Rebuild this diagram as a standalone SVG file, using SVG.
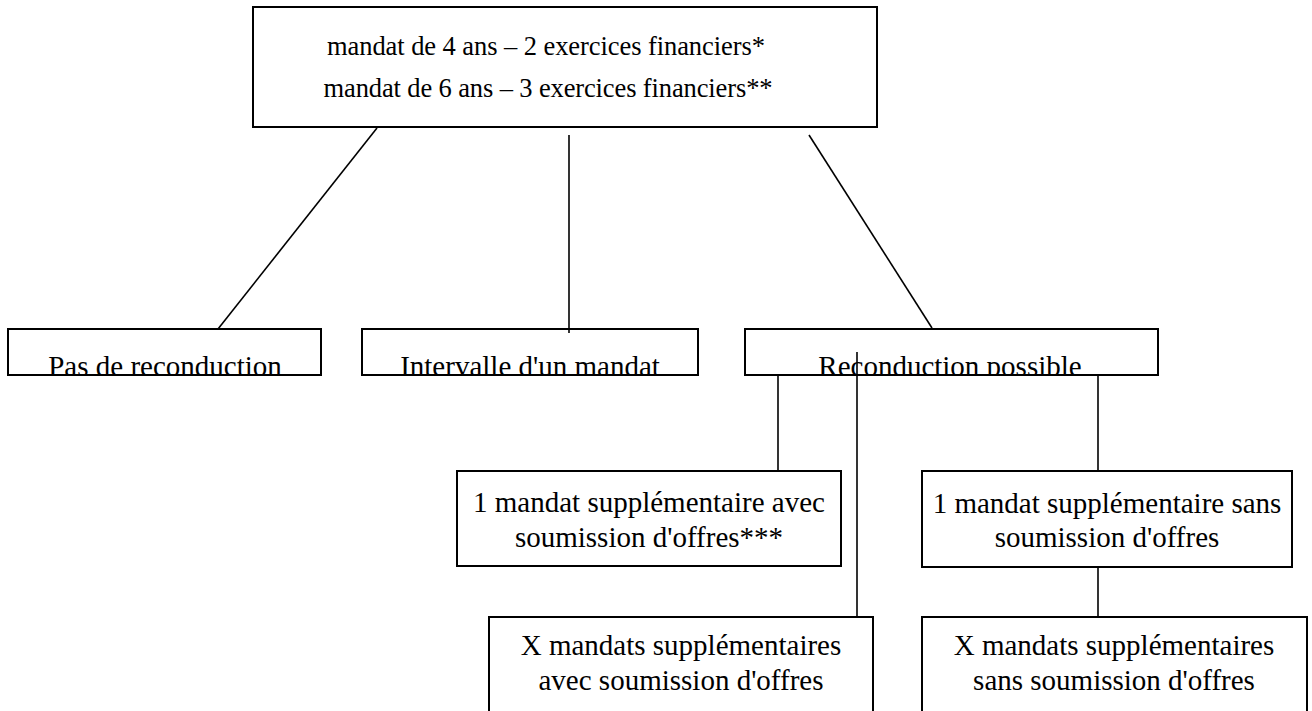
<svg xmlns="http://www.w3.org/2000/svg" width="1312" height="711" viewBox="0 0 1312 711">
<style>
.box{fill:#fff;stroke:#000;stroke-width:2}
.t{font-family:"Liberation Serif","Times New Roman",serif;font-size:29px;fill:#000;text-anchor:middle}
.h{font-size:26.5px}
.c{stroke:#000;stroke-width:1.6;fill:none}
</style>
<defs>
<clipPath id="c1"><rect x="8" y="329" width="313" height="45"/></clipPath>
<clipPath id="c2"><rect x="362" y="329" width="336" height="45"/></clipPath>
<clipPath id="c3"><rect x="745" y="329" width="413" height="45"/></clipPath>
</defs>
<rect width="1312" height="711" fill="#fff"/>
<g id="top">
<rect class="box" x="253" y="7" width="624" height="120"/>
<text class="t h" x="546" y="55" textLength="438">mandat de 4 ans – 2 exercices financiers*</text>
<text class="t h" x="548" y="97" textLength="449">mandat de 6 ans – 3 exercices financiers**</text>
</g>
<g id="pas">
<rect class="box" x="8" y="329" width="313" height="46"/>
<text class="t" x="165" y="376" clip-path="url(#c1)">Pas de reconduction</text>
</g>
<g id="intervalle">
<rect class="box" x="362" y="329" width="336" height="46"/>
<text class="t" x="530" y="376" clip-path="url(#c2)">Intervalle d'un mandat</text>
</g>
<g id="reconduction">
<rect class="box" x="745" y="329" width="413" height="46"/>
<text class="t" x="950" y="376" clip-path="url(#c3)">Reconduction possible</text>
</g>
<g id="un-avec">
<rect class="box" x="457" y="471" width="384" height="95"/>
<text class="t" x="649" y="512">1 mandat supplémentaire avec</text>
<text class="t" x="649" y="547">soumission d'offres***</text>
</g>
<g id="un-sans">
<rect class="box" x="922" y="471" width="370" height="96"/>
<text class="t" x="1107" y="513">1 mandat supplémentaire sans</text>
<text class="t" x="1107" y="547">soumission d'offres</text>
</g>
<g id="x-avec">
<rect class="box" x="489" y="617" width="384" height="110"/>
<text class="t" x="681" y="655">X mandats supplémentaires</text>
<text class="t" x="681" y="690">avec soumission d'offres</text>
</g>
<g id="x-sans">
<rect class="box" x="922" y="617" width="385" height="110"/>
<text class="t" x="1114" y="655">X mandats supplémentaires</text>
<text class="t" x="1114" y="690">sans soumission d'offres</text>
</g>
<g id="connectors">
<line class="c" x1="377" y1="128" x2="218" y2="329"/>
<line class="c" x1="569" y1="135" x2="569" y2="333"/>
<line class="c" x1="809" y1="135" x2="932" y2="328"/>
<line class="c" x1="778" y1="375" x2="778" y2="471"/>
<line class="c" x1="857" y1="352" x2="857" y2="617"/>
<line class="c" x1="1098" y1="375" x2="1098" y2="471"/>
<line class="c" x1="1098" y1="567" x2="1098" y2="617"/>
</g>
</svg>
